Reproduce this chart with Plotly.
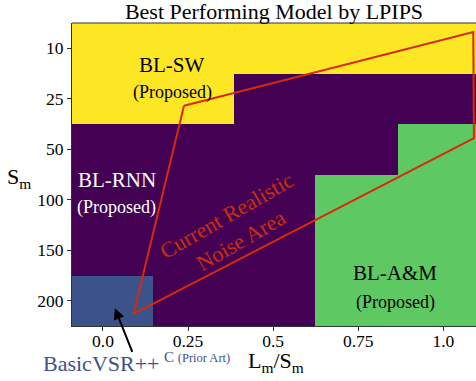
import plotly.graph_objects as go

# ---- data ----
s_labels = ["10", "25", "50", "100", "150", "200"]
x_edges = [-0.091, 0.147, 0.385, 0.624, 0.866, 1.105]
x_ticks = [0.0, 0.25, 0.5, 0.75, 1.0]
x_ticktext = ["0.0", "0.25", "0.5", "0.75", "1.0"]

best_model = [
    ["BL-SW", "BL-SW", "BL-SW", "BL-SW", "BL-SW"],
    ["BL-SW", "BL-SW", "BL-RNN", "BL-RNN", "BL-RNN"],
    ["BL-RNN", "BL-RNN", "BL-RNN", "BL-RNN", "BL-A&M"],
    ["BL-RNN", "BL-RNN", "BL-RNN", "BL-A&M", "BL-A&M"],
    ["BL-RNN", "BL-RNN", "BL-RNN", "BL-A&M", "BL-A&M"],
    ["BasicVSR++", "BL-RNN", "BL-RNN", "BL-A&M", "BL-A&M"],
]
model_codes = {"BL-RNN": 0, "BasicVSR++": 1, "BL-A&M": 3, "BL-SW": 4}

# realistic noise area polygon (x, row-index)
area_x = [0.238, 1.088, 1.090, 0.090, 0.238]
area_y = [1.14, -0.32, 1.78, 5.26, 1.14]

z = [[model_codes[m] for m in row] for row in best_model]
rows = list(range(len(s_labels)))
row_edges = [r - 0.5 for r in rows] + [rows[-1] + 0.5]

FONT = "Liberation Serif"
RED = "#d9290b"

fig = go.Figure()
fig.add_trace(go.Heatmap(
    z=z, x=x_edges, y=row_edges,
    zmin=0, zmax=4,
    colorscale=[[0, "#440154"], [0.25, "#3b528b"], [0.5, "#21918c"],
                [0.75, "#5ec962"], [1, "#fde725"]],
    showscale=False, hoverinfo="skip",
))
fig.add_trace(go.Scatter(
    x=area_x, y=area_y, mode="lines",
    line=dict(color=RED, width=2), hoverinfo="skip", showlegend=False,
))

ann = []
def lab(x, y, text, size, color):
    ann.append(dict(x=x, y=y, xref="x", yref="y", text=text, showarrow=False,
                    font=dict(family=FONT, size=size, color=color),
                    xanchor="center", yanchor="middle"))

lab(0.203, 0.33, "BL-SW", 21, "black")
lab(0.203, 0.88, "(Proposed)", 18, "black")
lab(0.040, 2.60, "BL-RNN", 21, "white")
lab(0.040, 3.16, "(Proposed)", 18, "white")
lab(0.858, 4.45, "BL-A&amp;M", 21, "black")
lab(0.858, 5.04, "(Proposed)", 18, "black")
ann.append(dict(x=0.385, y=3.56, xref="x", yref="y",
                text="Current Realistic<br>Noise Area", showarrow=False,
                textangle=-30, font=dict(family=FONT, size=22, color="#c8300f")))
# arrow to prior art cell
ann.append(dict(x=0.035, y=5.15, xref="x", yref="y", text="", showarrow=True,
                ax=18, ay=45, axref="pixel", ayref="pixel",
                arrowhead=2, arrowsize=1.1, arrowwidth=2, arrowcolor="black"))
ann.append(dict(x=0.0723, y=-0.123, xref="paper", yref="paper",
                text="BasicVSR++", showarrow=False,
                xanchor="center", yanchor="middle",
                font=dict(family=FONT, size=22, color="#3b528b")))
ann.append(dict(x=0.222, y=-0.103, xref="paper", yref="paper",
                text="C <span style='font-size:12.5px'>(Prior Art)</span>",
                showarrow=False, xanchor="left", yanchor="middle",
                font=dict(family=FONT, size=15, color="#3b528b")))
# axis titles
ann.append(dict(x=-0.13, y=0.488, xref="paper", yref="paper",
                text="S<sub>m</sub>", showarrow=False,
                xanchor="center", yanchor="middle",
                font=dict(family=FONT, size=22, color="black")))
ann.append(dict(x=0.504, y=-0.12, xref="paper", yref="paper",
                text="L<sub>m</sub>/S<sub>m</sub>", showarrow=False,
                xanchor="center", yanchor="middle",
                font=dict(family=FONT, size=22, color="black")))

tickfont = dict(family=FONT, size=17.5, color="black")
fig.update_layout(
    width=476, height=381,
    margin=dict(l=72, r=0, t=23, b=55),
    paper_bgcolor="white", plot_bgcolor="white",
    font=dict(family=FONT, size=17.5, color="black"),
    title=dict(text="Best Performing Model by LPIPS", x=0.5, xref="paper",
               y=1 - 11 / 381, yanchor="middle", xanchor="center",
               font=dict(family=FONT, size=22, color="black")),
    annotations=ann,
    shapes=[dict(type="line", xref="paper", yref="paper", x0=0, x1=1, y0=1, y1=1,
                 line=dict(color="#333", width=1))],
    showlegend=False,
)
fig.update_xaxes(range=[-0.091, 1.096], tickvals=x_ticks, ticktext=x_ticktext,
                 ticks="outside", ticklen=4, tickcolor="#333", tickfont=tickfont,
                 ticklabelstandoff=-5,
                 showline=True, linecolor="#333", linewidth=1, mirror=False,
                 showgrid=False, zeroline=False)
fig.update_yaxes(range=[5.5, -0.5], tickvals=rows, ticktext=s_labels,
                 ticks="outside", ticklen=4, tickcolor="#333", tickfont=tickfont,
                 showline=True, linecolor="#333", linewidth=1, mirror=False,
                 showgrid=False, zeroline=False)

fig.write_html("out.html")
